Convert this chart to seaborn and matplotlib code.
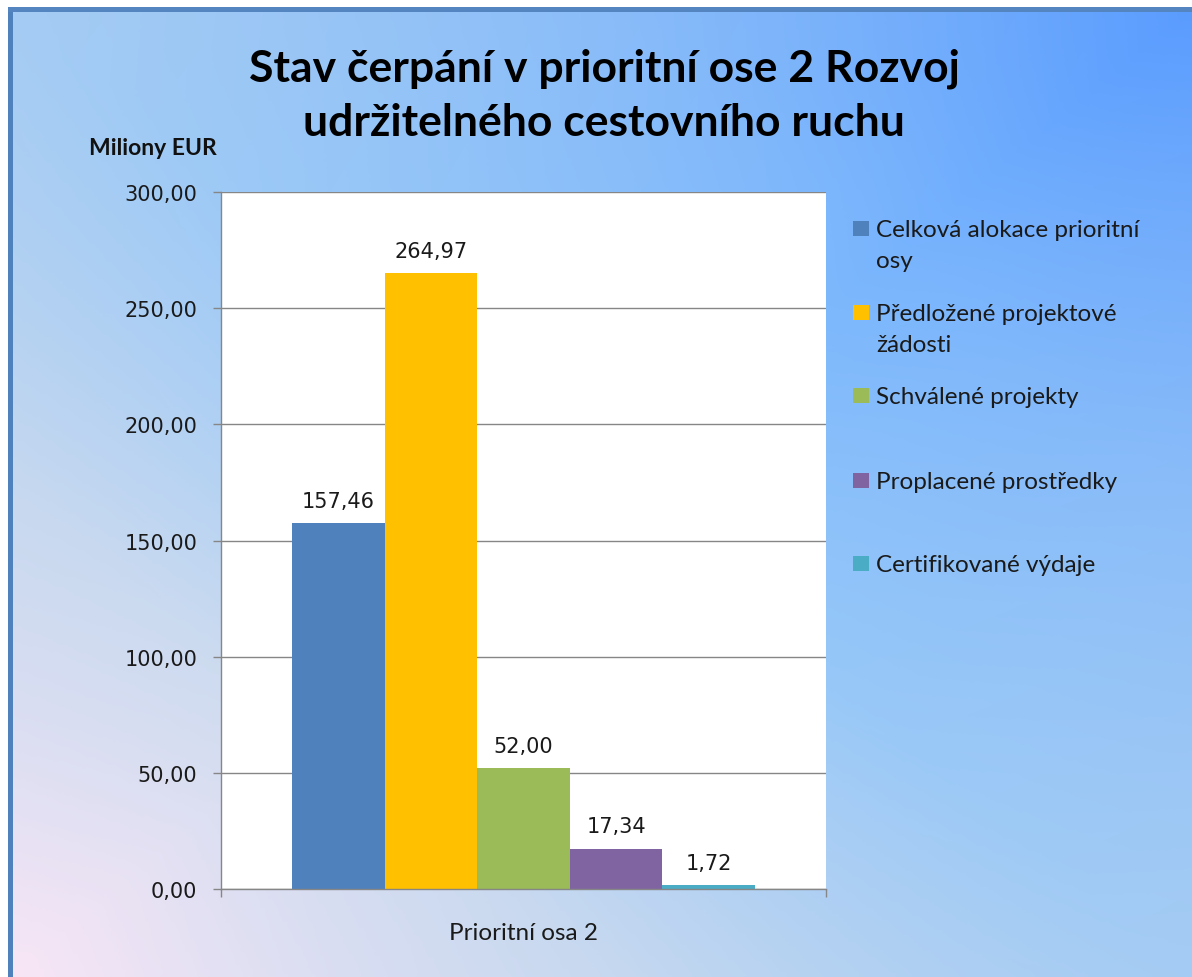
import numpy as np
import pandas as pd
import matplotlib
matplotlib.use("Agg")
import matplotlib.pyplot as plt
import seaborn as sns
from matplotlib.colors import LinearSegmentedColormap, to_rgb
from matplotlib.patches import Rectangle

# ---- data ----
category = ["Prioritní osa 2"]
series = ["Celková alokace prioritní osy", "Předložené projektové žádosti",
          "Schválené projekty", "Proplacené prostředky", "Certifikované výdaje"]
legend_labels = ["Celková alokace prioritní\nosy", "Předložené projektové\nžádosti",
                 "Schválené projekty", "Proplacené prostředky", "Certifikované výdaje"]
values = [157.46, 264.97, 52.00, 17.34, 1.72]
colors = ["#4f81bd", "#ffc000", "#9bbb59", "#8064a2", "#4bacc6"]
yticks = [0, 50, 100, 150, 200, 250, 300]
title_lines = ["Stav čerpání v prioritní ose 2 Rozvoj", "udržitelného cestovního ruchu"]
ylabel = "Miliony EUR"

sns.set_theme(style="white")
plt.rcParams['font.family'] = ['DejaVu Sans']
body = "Lato"

W, H = 1192, 978
fig = plt.figure(figsize=(W / 100, H / 100), dpi=100)
fig.patch.set_facecolor("white")

# ---- gradient background ----
bg = fig.add_axes([10 / W, 0, 1 - 10 / W, 1 - 10 / H], zorder=-10)
ny, nx = 240, 300
u = np.linspace(0, 1, nx)[None, :]
v = np.linspace(1, 0, ny)[:, None]
t = (u + v) / 2
cmap = LinearSegmentedColormap.from_list(
    "bg", [(0, "#f8e6f6"), (0.25, "#cfdcf0"), (0.5, "#8ec5fb"), (0.75, "#78b4fd"), (1, "#5a9cff")])
img = cmap(t)[..., :3]
s = np.abs(u - v)[..., None] * 0.6
gb = np.array(to_rgb("#b4d0ee"))
img = img * (1 - s) + gb * s
bg.imshow(img, aspect="auto", extent=[0, 1, 0, 1], interpolation="bilinear")
bg.set_axis_off()
fig.add_artist(Rectangle((8 / W, 0), 5 / W, 1 - 8 / H, transform=fig.transFigure,
                         color="#4f81bd", lw=0, zorder=-5))
fig.add_artist(Rectangle((8 / W, 1 - 13 / H), 1, 5 / H, transform=fig.transFigure,
                         color="#5585c0", lw=0, zorder=-5))

# ---- plot ----
ax = fig.add_axes([221 / W, 1 - 890 / H, 605 / W, 697 / H])
ax.set_facecolor("white")
df = pd.DataFrame({"cat": category * len(series), "series": series, "value": values})
sns.barplot(data=df, x="cat", y="value", hue="series", hue_order=series,
            palette=colors, width=0.765, ax=ax, legend=False, saturation=1,
            edgecolor="none", linewidth=0)
ax.set_xlim(-0.5, 0.5)
ax.set_ylim(0, 300)
ax.set_yticks(yticks)
ax.set_yticklabels([f"{y:.2f}".replace(".", ",") for y in yticks])
ax.yaxis.grid(True, color="#868686", lw=1)
ax.set_axisbelow(True)
for sp in ["top", "right"]:
    ax.spines[sp].set_visible(False)
for sp in ["left", "bottom"]:
    ax.spines[sp].set_color("#868686")
    ax.spines[sp].set_linewidth(1)
ax.tick_params(axis="y", left=True, length=6, width=1, color="#868686", direction="out",
               labelsize=15, labelcolor="#1a1a1a", pad=11)
ax.set_xticks([0])
ax.set_xticklabels(category, fontfamily=body, fontsize=17.5, color="#1a1a1a")
ax.set_xticks([-0.5, 0.5], minor=True)
ax.tick_params(axis="x", which="major", length=0, pad=24)
ax.tick_params(axis="x", which="minor", bottom=True, length=6, width=1, color="#868686")
ax.set_xlabel("")
ax.set_ylabel(ylabel, rotation=0, fontfamily=body, fontweight="bold", fontsize=16.5,
              color="#111111", ha="center", va="center")
ax.yaxis.set_label_coords((153 - 221) / 605, (890 - 149) / 697)

for cont, val in zip(ax.containers, values):
    ax.bar_label(cont, labels=[f"{val:.2f}".replace(".", ",")], padding=9,
                 fontsize=15, color="#1a1a1a")

# ---- title ----
for line, yy in zip(title_lines, [69, 123]):
    fig.text(604 / W, 1 - yy / H, line, ha="center", va="center", fontfamily=body,
             fontweight="bold", fontsize=32, color="#000000")

# ---- legend ----
ys = [229, 313, 396, 481, 564]
for lab, col, yy in zip(legend_labels, colors, ys):
    fig.add_artist(Rectangle((853 / W, 1 - (yy + 7.5) / H), 16 / W, 15 / H,
                             transform=fig.transFigure, color=col, lw=0))
    fig.text(876 / W, 1 - (yy - 9) / H, lab, ha="left", va="top", fontfamily=body,
             fontsize=17.5, color="#1a1a1a", linespacing=1.6)

fig.savefig("out.png", dpi=100)
